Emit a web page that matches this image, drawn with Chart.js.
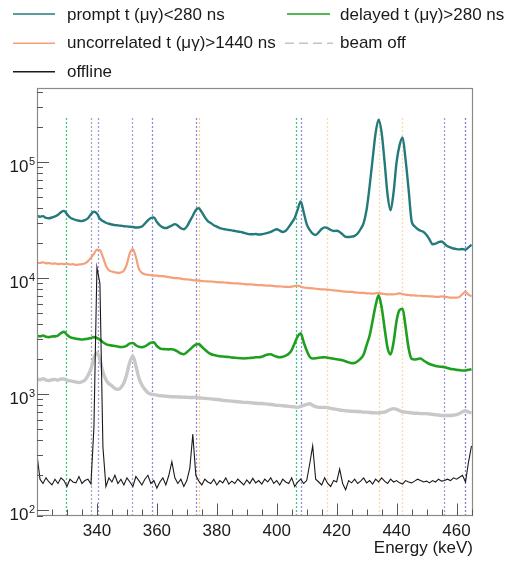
<!DOCTYPE html>
<html><head><meta charset="utf-8">
<script src="https://cdn.jsdelivr.net/npm/chart.js@4.4.1/dist/chart.umd.min.js"></script>
<style>
html,body{margin:0;padding:0;background:#fff;}
#wrap{position:relative;width:513px;height:563px;font-family:'Liberation Sans',Arial,sans-serif;color:#1a1a1a;overflow:hidden;}
canvas{position:absolute;left:0;top:0;}
.lt{position:absolute;font-size:17px;line-height:20px;white-space:nowrap;}
svg.sw{position:absolute;left:0;top:0;}
</style></head><body>
<div id="wrap">
<canvas id="c" width="513" height="563"></canvas>
<svg class="sw" id="sw" width="513" height="90"></svg>
</div>
<script>
// ---------- data ----------
const energy = [
320,321,322,323,324,325,326,327,328,329,
330,331,332,333,334,335,336,337,338,339,
340,341,342,343,344,345,346,347,348,349,
350,351,352,353,354,355,356,357,358,359,
360,361,362,363,364,365,366,367,368,369,
370,371,372,373,374,375,376,377,378,379,
380,381,382,383,384,385,386,387,388,389,
390,391,392,393,394,395,396,397,398,399,
400,401,402,403,404,405,406,407,408,409,
410,411,412,413,414,415,416,417,418,419,
420,421,422,423,424,425,426,427,428,429,
430,431,432,433,434,435,436,437,438,439,
440,441,442,443,444,445,446,447,448,449,
450,451,452,453,454,455,456,457,458,459,
460,461,462,463,464,465];

const prompt = [
34400,33800,34200,33000,32800,33300,34000,35200,37000,38000,
35600,33400,32300,31600,31200,31000,31600,32800,35500,37300,
36000,32500,31000,30000,29400,29000,28600,28500,28300,28000,
27900,27700,27600,27300,27400,27800,29500,31500,33000,33400,
30500,28500,27400,27000,27600,28400,29200,28300,26900,26400,
27800,31000,34500,38600,40000,37000,33500,31000,29800,28600,
27800,27000,26600,26300,26000,25800,25500,25200,25000,24600,
24200,23900,23900,24000,23800,23900,24200,24500,25000,25800,
26400,25700,25000,25600,27500,30000,33000,39000,45800,37000,
29200,26000,24200,23600,24800,26500,27400,27000,26000,25500,
25600,25000,23800,22700,22600,22800,23100,24200,26500,29800,
39000,62000,106000,178000,232000,180000,100000,52000,38500,55000,
100000,140000,163000,105000,58500,31200,28000,26500,25600,25000,
23500,21500,19600,19800,20400,20700,19800,18800,18400,18000,
17800,17700,17800,17600,18400,19400];

const uncorrelated = [
13600,13500,13700,13400,13500,13300,13400,13200,13300,13200,
13300,13100,13200,13000,13100,13200,13400,14000,15000,16200,
17600,17400,15200,12800,11700,11400,11200,11100,11200,11600,
13200,16500,17800,15200,12000,11100,10800,10700,10600,10500,
10500,10400,10400,10300,10200,10100,10000,10000,9900,9800,
9750,9700,9600,9550,9500,9450,9400,9380,9350,9300,
9250,9200,9200,9150,9100,9050,9000,9000,8950,8900,
8850,8850,8800,8750,8700,8700,8650,8600,8600,8550,
8500,8500,8450,8400,8400,8450,8550,8600,8450,8300,
8250,8200,8150,8100,8050,8000,8000,7950,7900,7850,
7800,7750,7700,7650,7600,7600,7550,7500,7450,7450,
7400,7400,7350,7400,7450,7350,7300,7250,7250,7250,
7300,7400,7300,7200,7150,7100,7100,7050,7050,7000,
7000,6950,6950,6900,6900,6950,6900,6850,6800,6800,
6800,6900,7300,7600,7200,6950];

const delayed = [
3180,3150,3200,3120,3100,3140,3150,3200,3350,3440,
3250,3100,3050,3000,2980,2960,2980,3000,3050,3100,
3050,2950,2800,2700,2650,2620,2600,2570,2550,2560,
2620,2740,2760,2640,2560,2540,2580,2680,2780,2800,
2600,2480,2450,2440,2430,2440,2400,2320,2240,2210,
2300,2420,2560,2680,2700,2560,2430,2300,2220,2170,
2140,2120,2110,2100,2090,2070,2060,2050,2040,2030,
2040,2050,2060,2080,2080,2100,2150,2200,2210,2150,
2100,2080,2100,2150,2230,2400,2750,3150,3340,2800,
2380,2100,2030,2040,2060,2070,2080,2060,2040,2020,
2000,1980,1960,1920,1880,1850,1860,1920,2020,2200,
2650,3200,4300,5800,7100,5600,3700,2500,2200,2800,
4300,5300,5450,3800,2500,2020,1990,2010,2030,1950,
1880,1820,1780,1750,1730,1720,1710,1680,1650,1640,
1620,1610,1600,1600,1620,1640];

const beamOff = [
1350,1330,1360,1320,1310,1330,1340,1320,1350,1350,
1320,1300,1290,1270,1260,1280,1320,1450,1650,2050,
2280,2000,1550,1330,1230,1180,1120,1100,1140,1250,
1500,1900,2120,1750,1380,1200,1100,1030,1000,990,
980,970,966,960,955,950,950,945,945,940,
940,935,935,940,930,925,920,915,910,905,
900,895,885,880,875,870,865,860,855,850,
850,845,840,835,830,830,825,820,815,810,
800,800,795,790,785,780,775,770,785,800,
815,826,800,780,770,770,770,765,755,745,
740,730,725,720,715,712,710,708,705,700,
700,695,692,690,690,695,700,720,740,750,
740,720,705,700,695,690,685,685,680,680,
680,675,670,665,660,655,655,655,655,660,
665,680,705,720,700,690];

const offline = [
300,185,170,190,175,165,185,170,190,180,
160,185,175,172,195,170,180,185,168,520,
12400,9000,350,160,190,175,200,170,185,165,
190,175,160,195,180,165,185,200,170,180,
155,175,190,165,200,262,190,170,185,160,
180,230,452,200,178,165,185,175,170,185,
165,180,172,190,168,178,170,185,175,165,
182,170,188,172,180,168,185,175,190,170,
180,165,185,175,170,190,160,175,185,170,
180,250,358,185,175,165,190,170,160,180,
175,226,170,150,180,172,185,170,178,190,
172,180,168,185,175,190,178,170,185,175,
180,172,168,180,175,172,178,185,180,175,
178,172,180,175,185,178,180,185,180,190,
185,192,200,175,260,358];

// marker lines (energies in keV) and their colours
const markerEnergies = [329.8, 338.0, 340.5, 351.7, 358.5, 373.0, 374.2, 406.4, 408.0, 416.7, 434.1, 441.7, 455.8, 462.8];
const markerColors = ['#3cc47c','#a4a4c4','#9a9ae0','#a0a0d8','#8c8cdc','#8c8cdc','#f5cf8f','#3cc47c','#8c8cdc','#f8dca8','#f8dca8','#f8dca8','#9a9ae0','#8080c8'];
const markerTop = 240000;

const xTickValues = [340, 360, 380, 400, 420, 440, 460];
const xTickLabels = ['340', '360', '380', '400', '420', '440', '460'];
const yDecades = [2, 3, 4, 5];

const seriesNames = ['prompt t (μγ)<280 ns', 'delayed t (μγ)>280 ns', 'uncorrelated t (μγ)>1440 ns', 'beam off', 'offline'];
const seriesColors = ['#247a7a', '#1f9f1f', '#f5a07a', '#c8c8c8', '#1a1a1a'];

// ---------- chart ----------
const FF = "'Liberation Sans', Arial, sans-serif";
const toPts = (vals) => energy.map((e, i) => ({x: e, y: vals[i]}));

const markerPlugin = {
  id: 'markers',
  beforeDatasetsDraw(chart) {
    const {ctx, chartArea: a, scales: {x, y}} = chart;
    ctx.save();
    ctx.beginPath(); ctx.rect(a.left, a.top, a.right - a.left, a.bottom - a.top); ctx.clip();
    ctx.lineWidth = 1.3;
    ctx.setLineDash([2, 2]);
    const yt = y.getPixelForValue(markerTop);
    markerEnergies.forEach((e, i) => {
      const px = Math.round(x.getPixelForValue(e)) + 0.5;
      ctx.strokeStyle = markerColors[i];
      ctx.beginPath(); ctx.moveTo(px, yt); ctx.lineTo(px, a.bottom); ctx.stroke();
    });
    ctx.restore();
  }
};

const framePlugin = {
  id: 'frame',
  afterDraw(chart) {
    const {ctx, chartArea: a, scales: {x, y}} = chart;
    ctx.save();
    ctx.strokeStyle = '#8a8a8a'; ctx.lineWidth = 1.2;
    ctx.strokeRect(Math.round(a.left) + 0.5, Math.round(a.top) + 0.5, Math.round(a.right - a.left) - 1, Math.round(a.bottom - a.top) - 1);
    ctx.strokeStyle = '#555'; ctx.lineWidth = 1;
    ctx.beginPath();
    for (let e = 325; e < 466; e += 5) {
      const px = Math.round(x.getPixelForValue(e)) + 0.5;
      const len = (e % 20 === 0) ? 12 : 6;
      ctx.moveTo(px, a.bottom); ctx.lineTo(px, a.bottom - len);
    }
    for (let d = 1; d <= 5; d++) {
      for (let m = 1; m <= 9; m++) {
        const v = m * Math.pow(10, d);
        if (v < y.min || v > y.max) continue;
        const py = Math.round(y.getPixelForValue(v)) + 0.5;
        const len = (m === 1) ? 12 : 6;
        ctx.moveTo(a.left, py); ctx.lineTo(a.left + len, py);
      }
    }
    ctx.stroke();
    // y labels 10^n
    ctx.fillStyle = '#1a1a1a';
    yDecades.forEach(d => {
      const py = y.getPixelForValue(Math.pow(10, d));
      ctx.font = '17px ' + FF; ctx.textAlign = 'right'; ctx.textBaseline = 'alphabetic';
      ctx.fillText('10', 28.5, py + 10);
      ctx.font = '11px ' + FF; ctx.textAlign = 'left';
      ctx.fillText(String(d), 29, py + 2.5);
    });
    ctx.restore();
  }
};

const orders = [5, 4, 3, 2, 1];
const widths = [2.4, 2.6, 2.2, 3.4, 1.1];
const smooth = [true, true, true, true, false];
const vals = [prompt, delayed, uncorrelated, beamOff, offline];

new Chart(document.getElementById('c'), {
  type: 'line',
  data: {
    datasets: vals.map((v, i) => ({
      label: seriesNames[i], data: toPts(v), borderColor: seriesColors[i], backgroundColor: seriesColors[i],
      borderWidth: widths[i], pointRadius: 0, tension: 0, fill: false, order: orders[i],
      cubicInterpolationMode: smooth[i] ? 'monotone' : 'default'
    }))
  },
  options: {
    responsive: false, animation: false, devicePixelRatio: 1,
    layout: {padding: {top: 88, right: 40, left: 0, bottom: 0}},
    plugins: {legend: {display: false}, tooltip: {enabled: false}},
    scales: {
      x: {
        type: 'linear', min: 320, max: 465.5,
        afterBuildTicks(s) { s.ticks = xTickValues.map(v => ({value: v})); },
        afterFit(s) { s.height = 47.5; },
        grid: {display: false, drawTicks: false}, border: {display: false},
        ticks: {autoSkip: false, maxRotation: 0, minRotation: 0, padding: 6, color: '#1a1a1a', font: {family: FF, size: 17},
          callback: (v) => { const i = xTickValues.indexOf(v); return i >= 0 ? xTickLabels[i] : ''; }},
        title: {display: true, text: 'Energy (keV)', align: 'end', color: '#1a1a1a', font: {family: FF, size: 17}, padding: {top: 0, bottom: 4}}
      },
      y: {
        type: 'logarithmic', min: 90, max: 435000,
        afterFit(s) { s.width = 37; },
        grid: {display: false, drawTicks: false}, border: {display: false},
        ticks: {display: false}
      }
    }
  },
  plugins: [markerPlugin, framePlugin]
});

// ---------- legend (HTML) ----------
const legendPos = [
  {x1: 13, x2: 55, ly: 14, tx: 67, ty: 4.8},
  {x1: 287, x2: 330, ly: 14, tx: 340, ty: 4.8},
  {x1: 13, x2: 55, ly: 43.3, tx: 67, ty: 33.4},
  {x1: 285, x2: 333, ly: 43.3, tx: 340, ty: 33.4},
  {x1: 13, x2: 55, ly: 71.7, tx: 67, ty: 62.4}
];
const legendOrder = [0, 1, 2, 3, 4];
const sw = document.getElementById('sw');
const wrap = document.getElementById('wrap');
legendOrder.forEach((si, k) => {
  const p = legendPos[k];
  const ln = document.createElementNS('http://www.w3.org/2000/svg', 'line');
  ln.setAttribute('x1', p.x1); ln.setAttribute('x2', p.x2);
  ln.setAttribute('y1', p.ly); ln.setAttribute('y2', p.ly);
  ln.setAttribute('stroke', si === 3 ? '#c4c4c4' : seriesColors[si]);
  ln.setAttribute('stroke-width', 1.6);
  if (si === 3) ln.setAttribute('stroke-dasharray', '9 5');
  sw.appendChild(ln);
  const t = document.createElement('div');
  t.className = 'lt'; t.style.left = p.tx + 'px'; t.style.top = p.ty + 'px';
  t.textContent = seriesNames[si];
  wrap.appendChild(t);
});
</script>
</body></html>
